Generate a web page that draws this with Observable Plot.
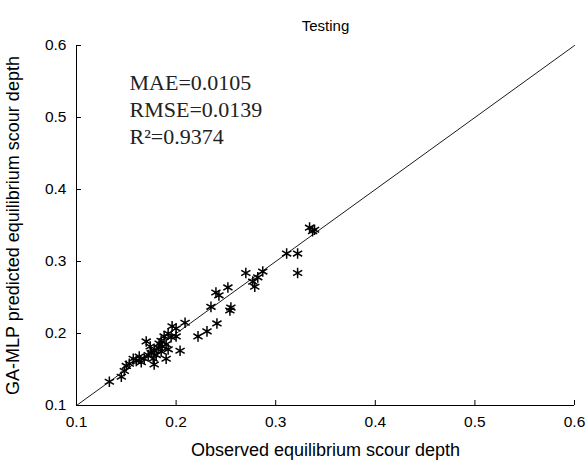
<!DOCTYPE html>
<html><head><meta charset="utf-8">
<script src="https://cdn.jsdelivr.net/npm/d3@7"></script>
<script src="https://cdn.jsdelivr.net/npm/@observablehq/plot@0.6"></script>
<style>body{margin:0;background:#fff}</style>
</head><body><div id="chart"></div>
<script>
const observed = [0.334,0.339,0.337,0.311,0.322,0.322,0.270,0.287,0.282,0.277,0.279,0.240,0.243,0.252,0.235,0.255,0.254,0.241,0.231,0.222,0.209,0.200,0.196,0.204,0.192,0.188,0.185,0.190,0.182,0.178,0.175,0.180,0.185,0.170,0.172,0.168,0.163,0.160,0.157,0.153,0.150,0.148,0.145,0.133,0.178,0.190,0.195,0.186,0.177,0.165,0.192,0.200,0.183,0.174];
const predicted = [0.347,0.344,0.342,0.311,0.311,0.284,0.284,0.286,0.278,0.272,0.265,0.257,0.253,0.264,0.237,0.236,0.232,0.214,0.203,0.196,0.215,0.207,0.210,0.176,0.200,0.196,0.190,0.185,0.180,0.176,0.173,0.170,0.175,0.189,0.170,0.165,0.168,0.162,0.165,0.158,0.155,0.148,0.140,0.133,0.157,0.165,0.195,0.182,0.165,0.160,0.178,0.196,0.186,0.182];
const axisTicks = [0.1,0.2,0.3,0.4,0.5,0.6];
const refLine = [0.1,0.6];
const stats = ["MAE=0.0105","RMSE=0.0139","R²=0.9374"];
const titleText = "Testing";
const xLabel = "Observed equilibrium scour depth";
const yLabel = "GA-MLP predicted equilibrium scour depth";

const pts = observed.map((o,i)=>({o, p: predicted[i]}));
const W = 587, H = 462, mL = 76, mR = 13, mT = 45, mB = 57;
const serif = "Liberation Serif, Times New Roman, serif";

const chart = Plot.plot({
  width: W, height: H,
  marginLeft: mL, marginRight: mR, marginTop: mT, marginBottom: mB,
  style: {fontFamily: "Liberation Sans, Arial, sans-serif", fontSize: "16px", background: "#fff", color: "#000"},
  x: {domain: [0.1,0.6]},
  y: {domain: [0.1,0.6]},
  marks: [
    Plot.axisX(axisTicks, {tickSize: 0, tickPadding: 10, tickFormat: d=>String(d), fontSize: 15.5, label: null}),
    Plot.axisY(axisTicks, {tickSize: 0, tickPadding: 10, tickFormat: d=>String(d), fontSize: 15.5, label: null}),
    Plot.axisX({ticks: [], tickSize: 0, label: xLabel, labelAnchor: "center", labelArrow: "none", labelOffset: 50, fontSize: 18}),
    Plot.axisY({ticks: [], tickSize: 0, label: yLabel, labelAnchor: "center", labelArrow: "none", labelOffset: 70, fontSize: 18}),
    Plot.tickX(axisTicks, {x: d=>d, insetTop: H - mT - mB - 5, stroke: "#000"}),
    Plot.tickY(axisTicks, {y: d=>d, insetRight: W - mL - mR - 5, stroke: "#000"}),
    Plot.ruleX([0.1], {stroke: "#000"}),
    Plot.ruleY([0.1], {stroke: "#000"}),
    Plot.line(refLine.map(v=>({v})), {x: "v", y: "v", stroke: "#000", strokeWidth: 0.9}),
    Plot.dot(pts, {x: "o", y: "p", symbol: "asterisk", r: 5, stroke: "#000", strokeWidth: 1.5}),
    Plot.text([stats[0]], {text: d=>d, frameAnchor: "top-left", dx: 53, dy: 29, fontFamily: serif, fontSize: 22, textAnchor: "start", fill: "#222"}),
    Plot.text([stats[1]], {text: d=>d, frameAnchor: "top-left", dx: 53, dy: 56, fontFamily: serif, fontSize: 22, textAnchor: "start", fill: "#222"}),
    Plot.text([stats[2]], {text: d=>d, frameAnchor: "top-left", dx: 53, dy: 83, fontFamily: serif, fontSize: 22, textAnchor: "start", fill: "#222"}),
    Plot.text([titleText], {text: d=>d, frameAnchor: "top", dy: -25, fontSize: 15})
  ]
});
document.getElementById("chart").appendChild(chart);
</script>
</body></html>
